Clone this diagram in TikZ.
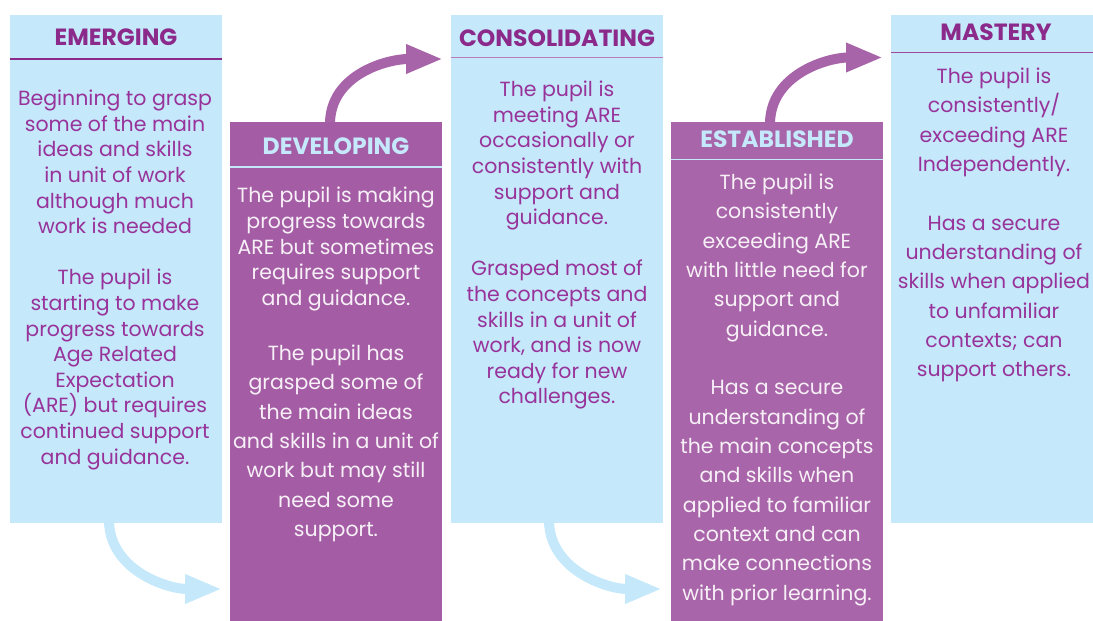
\documentclass[tikz,border=0pt]{standalone}
\usepackage{fontspec}
\setmainfont{Poppins}
\usetikzlibrary{arrows.meta}
\definecolor{lblue}{HTML}{C5E9FA}
\definecolor{pbox}{HTML}{A45DA5}
\definecolor{pboxb}{HTML}{A865A9}
\definecolor{ttl}{HTML}{8B2A8A}
\definecolor{btxt}{HTML}{97339A}
\definecolor{wtxt}{HTML}{F7F0F7}
\definecolor{parrow}{HTML}{A864A8}
\definecolor{lline}{HTML}{B87DBA}
\newcommand\fA{\fontsize{20.5}{25.6}\selectfont}
\newcommand\fB{\fontsize{20.5}{29.35}\selectfont}
\newcommand\fT{\fontsize{23.5}{26}\selectfont\bfseries}
\begin{document}
\begin{tikzpicture}[x=1pt,y=-1pt,
  colbox/.style={rectangle, draw=none, inner sep=0pt, outer sep=0pt, anchor=north west},
  ttlnode/.style={anchor=base, inner sep=0pt, font=\fT},
  bodytxt/.style={anchor=base, align=center, inner sep=0pt},
  bluearrow/.style={draw=lblue, line width=10pt, -{Triangle[length=37pt 0 0, width=27pt 0 0, fill=lblue]}},
  purplearrow/.style={draw=parrow, line width=10pt, -{Triangle[length=37pt 0 0, width=27pt 0 0, fill=parrow]}}
]
\useasboundingbox (0,0) rectangle (1093,621);
% arrow endpoints
\coordinate (a1s) at (109,520);
\coordinate (a1t) at (222,589);
\coordinate (a2s) at (330,124);
\coordinate (a2t) at (443,59);
\coordinate (a3s) at (549,520);
\coordinate (a3t) at (662,589);
\coordinate (a4s) at (770,124);
\coordinate (a4t) at (883,57.5);
\draw[bluearrow] (a1s) .. controls +(0,50) and +(-55,0) .. (a1t);
\draw[purplearrow] (a2s) .. controls +(0,-50) and +(-55,0) .. (a2t);
\draw[bluearrow] (a3s) .. controls +(0,50) and +(-55,0) .. (a3t);
\draw[purplearrow] (a4s) .. controls +(0,-50) and +(-55,0) .. (a4t);
% boxes
\node[colbox, fill=lblue, minimum width=212pt, minimum height=507.7pt] (emg) at (10,15) {};
\node[colbox, fill=pbox, minimum width=212pt, minimum height=500pt] (dev) at (230,122) {};
\node[colbox, fill=lblue, minimum width=212pt, minimum height=507.7pt] (con) at (451,15) {};
\node[colbox, fill=pboxb, minimum width=212pt, minimum height=500pt] (est) at (671,122) {};
\node[colbox, fill=lblue, minimum width=210pt, minimum height=507.7pt] (mas) at (891,15) {};
% title rules
\draw[ttl, line width=2pt] (10,58.7) -- (222,58.7);
\draw[lblue, line width=2pt] (230,166.7) -- (442,166.7);
\draw[lline, line width=1.5pt] (451,57.5) -- (663,57.5);
\draw[lblue, line width=1.5pt] (671,159.7) -- (883,159.7);
\draw[ttl!85, line width=1.5pt] (891,52.5) -- (1093,52.5);
% titles
\node[ttlnode, text=ttl] (emgT) at (116,45.7) {EMERGING};
\node[ttlnode, text=lblue] (devT) at (336,154) {DEVELOPING};
\node[ttlnode, text=ttl] (conT) at (557,46.5) {CONSOLIDATING};
\node[ttlnode, text=lblue] (estT) at (777,147.7) {ESTABLISHED};
\node[ttlnode, text=ttl] (masT) at (996,40.7) {MASTERY};
% body texts (anchor = baseline of last line)
\node[bodytxt, text=btxt, font=\fA] (emgB) at (115,464) {Beginning to grasp\\some of the main\\ideas and skills\\in unit of work\\although much\\work is needed\\[25.6pt]The pupil is\\starting to make\\progress towards\\Age Related\\Expectation\\(ARE) but requires\\continued support\\and guidance.};
\node[bodytxt, text=wtxt, font=\fA] (devB1) at (336,305.3) {The pupil is making\\progress towards\\ARE but sometimes\\requires support\\and guidance.};
\node[bodytxt, text=wtxt, font=\fB] (devB2) at (336,536.6) {The pupil has\\grasped some of\\the main ideas\\and skills in a unit of\\work but may still\\need some\\support.};
\node[bodytxt, text=btxt, font=\fA] (conB) at (557,403.9) {The pupil is\\meeting ARE\\occasionally or\\consistently with\\support and\\guidance.\\[25.6pt]Grasped most of\\the concepts and\\skills in a unit of\\work, and is now\\ready for new\\challenges.};
\node[bodytxt, text=wtxt, font=\fB] (estB) at (777,600.3) {The pupil is\\consistently\\exceeding ARE\\with little need for\\support and\\guidance.\\[29.35pt]Has a secure\\understanding of\\the main concepts\\and skills when\\applied to familiar\\context and can\\make connections\\with prior learning.};
\node[bodytxt, text=btxt, font=\fB] (masB) at (994,376.8) {The pupil is\\consistently/\\exceeding ARE\\Independently.\\[29.35pt]Has a secure\\understanding of\\skills when applied\\to unfamiliar\\contexts; can\\support others.};
\end{tikzpicture}
\end{document}
